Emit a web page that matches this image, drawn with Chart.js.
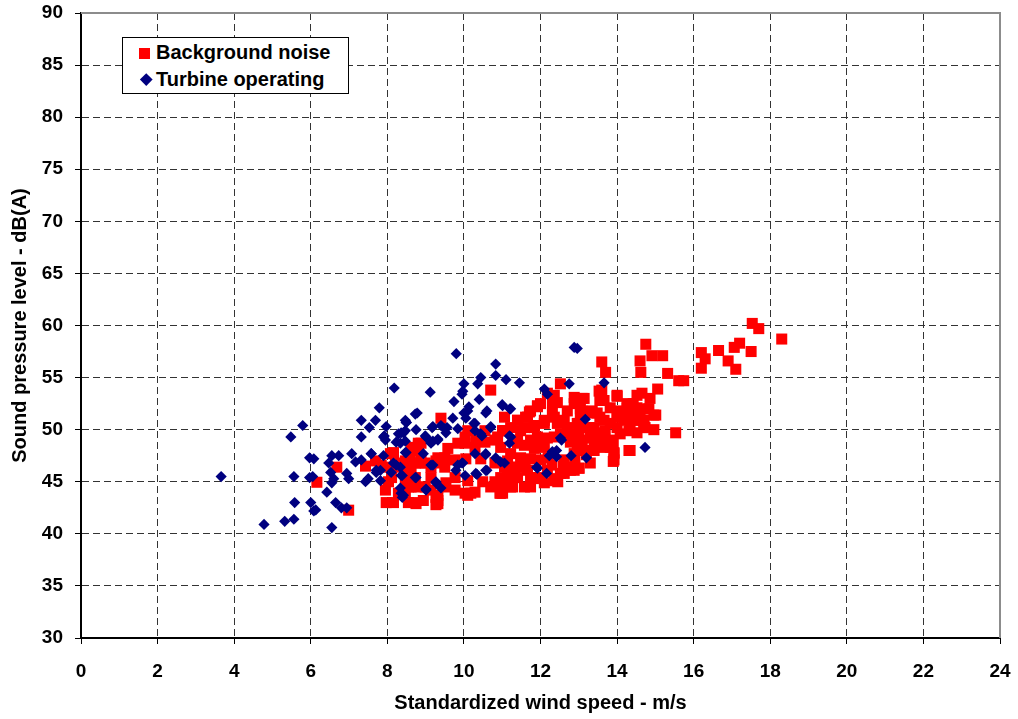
<!DOCTYPE html>
<html>
<head>
<meta charset="utf-8">
<script src="https://cdn.jsdelivr.net/npm/chart.js@4.4.1/dist/chart.umd.min.js"></script>
<style>
  html, body { margin: 0; padding: 0; background: #fff; }
  #wrap { position: relative; width: 1018px; height: 719px; }
  #legend {
    position: absolute; left: 122px; top: 37px; width: 225px; height: 55px;
    border: 1px solid #000; background: #fff; z-index: 2;
    font: bold 20px "Liberation Sans", Arial, sans-serif; color: #000;
  }
  #legend .txt { position: absolute; left: 33px; line-height: 20px; white-space: nowrap; }
  #legend .sq { position: absolute; left: 16px; top: 10px; width: 11px; height: 11px; background: #ff0000; }
  #legend .dm { position: absolute; left: 18.5px; top: 37px; width: 8.5px; height: 8.5px; background: #000080; transform: rotate(45deg); }
</style>
</head>
<body>
<div id="wrap">
  <canvas id="chart" width="1018" height="719"></canvas>
  <div id="legend">
    <div class="sq"></div><div class="txt" style="top:4px">Background noise</div>
    <div class="dm"></div><div class="txt" style="top:31px">Turbine operating</div>
  </div>
</div>
<script>
// [wind speed m/s, level dB(A)]
const backgroundNoise = [
  [17.53,60.2],[17.7,59.7],[18.3,58.7],[17.2,58.3],[17.06,57.9],[17.5,57.5],[16.65,57.6],[16.2,57.4],
  [16.3,56.8],[16.9,56.6],[16.2,55.9],[17.1,55.8],
  [14.75,58.2],[14.91,57.1],[15.19,57.1],[14.6,56.6],[14.62,55.5],[15.32,55.4],[15.61,54.7],[15.74,54.7],
  [15.06,53.9],[14.65,53.5],[14.86,53.0],[14.42,52.5],[14.83,52.0],[15.01,51.4],[14.6,50.9],[14.96,50.0],
  [15.53,49.7],[14.34,48.0],
  [13.6,56.5],[13.7,55.5],[13.6,53.8],[14.0,53.2],[13.9,48.7],[13.5,48.7],[13.0,48.2],[13.0,46.3],[13.9,46.95],
  [12.52,54.4],[13.09,53.0],[13.53,53.7],[14.0,53.3],[14.52,53.3],[13.66,52.8],[13.82,52.1],[14.26,52.5],
  [14.52,52.1],[14.73,52.0],[12.88,52.5],[12.7,51.8],[12.44,52.6],[11.92,52.3],[11.74,51.8],[12.18,53.5],
  [12.31,51.6],[13.04,51.6],[13.48,51.6],[13.66,50.9],[14.0,51.6],[14.26,51.6],[14.44,50.9],[14.7,50.9],
  [14.0,50.2],[14.31,49.9],[14.52,49.7],[14.73,50.2],[13.48,49.7],[13.3,49.2],[13.48,48.7],[13.82,48.8],
  [13.92,47.8],[14.31,48.0],[13.92,47.1],[12.88,46.1],[13.01,46.3],[11.01,49.9],[11.4,50.9],[11.66,51.2],
  [11.48,49.9],[11.84,50.2],[12.1,50.6],[12.44,50.6],[12.7,50.2],[13.04,50.2],[11.92,49.3],[12.18,49.2],
  [12.52,49.6],[12.88,49.6],[12.78,48.8],[13.04,48.3],[11.4,49.0],[11.58,48.5],[11.84,48.2],[12.1,48.3],
  [10.96,48.3],[11.22,47.7],[11.48,47.3],[11.74,47.2],[12.0,47.1],[12.62,47.1],[12.88,47.7],[11.06,46.4],
  [11.4,46.4],[11.66,46.1],[12.18,46.1],[12.52,45.8],[11.14,45.4],[11.4,45.4],[11.74,45.4],[12.0,45.3],
  [12.36,45.3],[12.62,45.8],[10.96,44.5],[11.22,44.5],[10.94,43.9],
  [13.03,52.8],[13.55,52.8],[13.08,51.8],[13.34,51.6],[13.55,51.2],[13.03,50.6],[13.4,50.2],[13.0,49.7],
  [13.69,49.9],[13.82,50.6],[14.08,51.8],[14.26,52.1],[14.44,51.8],[14.0,51.2],[14.18,50.9],[14.6,51.2],
  [14.7,50.6],[14.96,51.4],[14.34,50.2],[14.7,50.2],[13.4,49.3],[13.66,49.3],[13.82,49.0],[13.66,48.3],
  [13.4,48.0],[13.82,48.3],[14.08,49.6],[13.92,47.7],[13.09,49.0],[12.96,48.2],
  [8.6,47.7],[8.81,48.5],[8.86,46.8],[9.4,46.8],[10.03,49.3],[10.31,49.0],[10.55,49.9],[10.88,49.3],
  [11.06,49.9],[11.61,51.2],[11.71,51.7],[11.92,52.2],[12.0,52.5],[12.31,52.6],[12.36,53.3],[12.88,53.1],
  [13.14,53.0],[13.04,52.0],[13.35,51.8],[11.4,50.9],[11.58,50.2],[11.84,50.4],[12.1,50.9],[12.36,51.2],
  [12.62,50.9],[12.96,50.6],[13.27,50.2],[11.22,50.2],[11.4,48.7],[11.74,49.0],[12.0,49.0],[12.36,49.3],
  [12.62,49.3],[12.96,49.0],[13.14,48.0],[13.4,48.7],[12.78,46.1],[12.88,46.4],[11.14,46.1],[10.96,45.4],
  [11.22,44.9],[11.58,44.5],[11.74,44.5],[12.1,44.9],[12.36,45.1],[11.92,45.4],[10.7,44.5],[10.96,43.9],
  [10.18,43.9],[10.03,43.9],[9.27,43.5],[9.32,42.9],
  [6.16,44.95],[6.99,42.27],[6.68,46.4],[7.43,46.5],[8.08,47.7],[8.21,46.8],[8.11,45.4],[8.47,45.8],
  [8.62,48.3],[7.97,43.0],[8.16,43.0],[8.55,43.0],[7.95,44.2],[8.47,43.9],[8.62,44.5],[8.75,42.9],
  [9.32,43.7],[9.27,42.8],[7.84,46.6],[8.29,46.4],[8.55,46.1],[8.73,46.8],[8.88,47.1],[9.14,46.4],
  [9.32,47.3],[9.5,46.4],[9.77,47.1],[8.81,48.7],[8.73,45.4],[8.99,44.5],[9.14,45.4],[9.5,44.5],
  [9.77,44.2],[8.29,43.9],[8.55,44.5],[9.4,51.1],[9.84,48.7],[10.03,48.7],[10.29,48.3],[10.55,48.8],
  [10.81,49.0],[11.01,49.9],[11.06,51.2],[8.88,48.7],[8.75,48.0],[8.16,47.8],[7.69,47.0],[8.03,46.4],
  [8.47,47.0],[8.62,46.4],[8.99,46.8],[9.27,47.0],[9.5,47.3],[10.05,47.2],[10.44,47.2],[10.81,46.8],
  [11.14,47.0],[11.32,46.4],[8.03,45.0],[8.47,44.9],[8.81,44.5],[9.14,44.2],[9.53,44.9],[9.77,45.4],
  [10.1,45.1],[10.49,45.0],[10.81,45.0],[11.14,45.1],[11.32,45.4],[10.1,43.7],[10.29,44.0],[11.01,43.9],
  [8.94,43.2],[9.32,43.2],[8.73,43.0],[11.27,44.5],[10.7,53.8],[9.58,48.2],[10.1,49.9],
  [12.3,46.6],[12.6,46.5],[12.9,47.0],[12.2,47.3],[11.6,46.8],[12.45,45.0],[13.3,46.8],[13.2,47.6]
];

const turbineOperating = [
  [3.66,45.5],[4.78,40.9],[5.32,41.2],[5.56,41.4],[5.58,43.0],[5.56,45.5],[5.48,49.3],[5.79,50.4],
  [5.97,47.3],[6.08,47.2],[5.97,45.4],[6.05,45.5],[6.0,43.0],[6.08,42.2],[6.13,42.3],[6.55,40.6],
  [6.42,44.0],[6.65,43.0],[6.8,42.5],[6.94,42.5],[6.55,44.9],[6.6,45.3],[6.47,46.8],[6.55,47.5],
  [6.73,47.5],[6.52,45.9],[6.94,45.8],[6.99,45.3],[7.07,47.7],[7.17,46.9],[7.32,47.1],[7.58,47.7],
  [7.43,45.0],[7.5,45.3],[7.71,45.9],[7.82,46.1],[7.32,49.3],[7.32,50.9],[7.53,50.2],[7.69,50.9],
  [7.79,52.1],[8.18,54.0],[7.9,49.3],[7.95,49.0],[7.97,50.3],[7.9,47.5],[8.23,48.8],[8.36,49.7],
  [8.47,49.9],[8.5,50.7],[8.73,51.5],[8.75,50.0],[8.47,47.8],[8.23,46.6],[8.36,45.6],[8.73,45.4],
  [8.34,44.4],[8.42,43.7],
  [9.8,57.3],[10.83,56.3],[10.83,55.2],[11.1,54.8],[11.45,54.5],[10.0,54.4],[10.36,54.4],[10.44,55.0],
  [9.97,53.7],[9.95,53.4],[9.74,52.7],[10.4,52.9],[9.12,53.6],[10.13,52.2],[10.0,51.6],[11.0,52.4],
  [11.2,52.0],[10.6,51.8],[8.78,51.6],[9.71,51.1],[10.05,51.1],[8.47,50.9],[9.17,50.2],[9.4,50.4],
  [9.56,50.2],[9.84,50.1],[10.26,50.6],[10.7,50.2],[8.99,49.4],[9.19,48.9],[9.32,49.1],[9.53,49.7],
  [10.29,49.9],[10.47,49.4],[11.22,49.3],[8.47,48.9],[8.34,48.7],[8.94,47.7],[9.14,48.8],[11.19,48.7],
  [12.52,49.2],[13.17,51.0],[10.29,47.7],[10.57,47.6],[10.83,47.3],[11.06,46.8],[9.14,46.6],[8.34,46.4],
  [9.84,46.6],[9.95,46.8],[12.31,47.9],[12.42,47.4],[12.8,47.5],[13.2,47.3],[11.9,46.4],[12.16,45.8],
  [10.6,46.1],[10.34,45.7],[10.03,45.6],[8.39,45.6],[8.75,45.4],[9.27,44.9],[9.4,44.4],[9.01,44.2],
  [8.36,43.9],[12.88,57.9],[12.96,57.8],[12.75,54.4],[13.66,54.5],[12.1,53.9],[12.18,53.4],[12.55,49.0],
  [12.42,48.0],[12.23,47.5],[10.96,46.9],[14.73,48.3],[11.92,46.3],
  [8.49,50.7],[9.19,50.3],[9.5,50.1],[10.1,51.8],[10.29,50.6],[10.44,49.6],[10.7,50.3],[11.01,52.3],
  [11.22,52.0],[10.57,51.6],[7.92,49.4],[7.58,47.7],[8.29,49.6],[8.42,49.7],[8.49,47.8],[9.01,49.3],
  [9.14,48.7],[9.32,49.0],[9.19,46.6],[8.16,46.8],[8.1,45.9],[7.71,46.1],[7.82,45.1],[9.27,45.0],
  [9.01,44.3],[8.39,43.5],[9.79,46.1],[9.97,46.8],[10.31,45.8],[10.57,46.1],[10.57,47.7],[11.19,49.4]
];

const xTicks = { min: 0, max: 24, step: 2 };
const yTicks = { min: 30, max: 90, step: 5 };
const xTitle = "Standardized wind speed - m/s";
const yTitle = "Sound pressure level - dB(A)";

const FONT = '"Liberation Sans", Arial, sans-serif';
const toXY = (pts) => pts.map(p => ({ x: p[0], y: p[1] }));

// grey frame on top and right of the plot area
const plotFrame = {
  id: "plotFrame",
  beforeDatasetsDraw(chart) {
    const { ctx, chartArea: a } = chart;
    ctx.save();
    ctx.strokeStyle = "#8c8c8c";
    ctx.lineWidth = 2;
    ctx.beginPath();
    ctx.moveTo(a.left, a.top);
    ctx.lineTo(a.right, a.top);
    ctx.lineTo(a.right, a.bottom);
    ctx.stroke();
    ctx.restore();
  },
};

new Chart(document.getElementById("chart"), {
  type: "scatter",
  data: {
    datasets: [
      {
        label: "Background noise",
        data: toXY(backgroundNoise),
        pointStyle: "rect",
        pointRadius: 7.8,
        backgroundColor: "#ff0000",
        borderWidth: 0,
        order: 1,
      },
      {
        label: "Turbine operating",
        data: toXY(turbineOperating),
        pointStyle: "rectRot",
        pointRadius: 5.6,
        backgroundColor: "#000080",
        borderWidth: 0,
        order: 0,
      },
    ],
  },
  options: {
    responsive: false,
    animation: false,
    events: [],
    layout: { padding: { top: 13, right: 18, left: 0, bottom: 0 } },
    plugins: { legend: { display: false }, tooltip: { enabled: false } },
    scales: {
      x: {
        type: "linear",
        min: xTicks.min,
        max: xTicks.max,
        afterFit: (s) => {
          s.height = 81;
          s.paddingLeft = 0;
          s.paddingRight = 0;
        },
        ticks: {
          stepSize: xTicks.step,
          color: "#000",
          padding: 16,
          maxRotation: 0,
          font: { family: FONT, size: 19, weight: "bold" },
        },
        grid: {
          color: (c) => (c.tick && c.tick.value === xTicks.max ? "rgba(0,0,0,0)" : "#333"),
          tickColor: "#000",
          tickLength: 6,
          lineWidth: 1,
        },
        border: { display: true, color: "#000", width: 2, dash: [7, 4] },
        title: {
          display: true,
          text: xTitle,
          color: "#000",
          font: { family: FONT, size: 20, weight: "bold" },
          padding: { top: 0, bottom: 4 },
        },
      },
      y: {
        type: "linear",
        min: yTicks.min,
        max: yTicks.max,
        afterFit: (s) => {
          s.width = 81;
          s.paddingTop = 0;
          s.paddingBottom = 0;
        },
        ticks: {
          stepSize: yTicks.step,
          color: "#000",
          padding: 12,
          font: { family: FONT, size: 19, weight: "bold" },
        },
        grid: {
          color: (c) => (c.tick && c.tick.value === yTicks.max ? "rgba(0,0,0,0)" : "#333"),
          tickColor: "#000",
          tickLength: 6,
          lineWidth: 1,
        },
        border: { display: true, color: "#000", width: 2, dash: [7, 4] },
        title: {
          display: true,
          text: yTitle,
          color: "#000",
          font: { family: FONT, size: 20, weight: "bold" },
          padding: { top: 8, bottom: 0 },
        },
      },
    },
  },
  plugins: [plotFrame],
});
</script>
</body>
</html>
